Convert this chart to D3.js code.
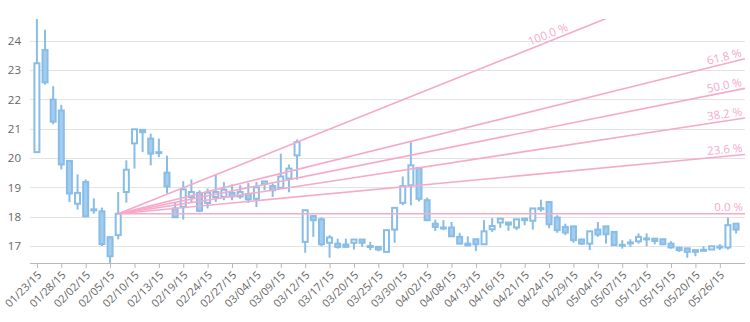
<!DOCTYPE html>
<html>
<head>
<meta charset="utf-8">
<script src="https://cdn.jsdelivr.net/npm/d3@7"></script>
<style>
  html, body { margin: 0; padding: 0; background: #fff; }
  svg { display: block; font-family: "Open Sans", "Noto Sans", sans-serif; }
</style>
</head>
<body>
<svg id="chart" width="750" height="322"></svg>
<script>
// Trading days (category axis)
const dates = [
  "01/23/15","01/26/15","01/27/15","01/28/15","01/29/15","01/30/15",
  "02/02/15","02/03/15","02/04/15","02/05/15","02/06/15","02/09/15","02/10/15","02/11/15","02/12/15","02/13/15",
  "02/17/15","02/18/15","02/19/15","02/20/15","02/23/15","02/24/15","02/25/15","02/26/15","02/27/15",
  "03/02/15","03/03/15","03/04/15","03/05/15","03/06/15","03/09/15","03/10/15","03/11/15","03/12/15","03/13/15",
  "03/16/15","03/17/15","03/18/15","03/19/15","03/20/15","03/23/15","03/24/15","03/25/15","03/26/15","03/27/15",
  "03/30/15","03/31/15","04/01/15","04/02/15","04/06/15","04/07/15","04/08/15","04/09/15","04/10/15",
  "04/13/15","04/14/15","04/15/15","04/16/15","04/17/15","04/20/15","04/21/15","04/22/15","04/23/15","04/24/15",
  "04/27/15","04/28/15","04/29/15","04/30/15","05/01/15","05/04/15","05/05/15","05/06/15","05/07/15","05/08/15",
  "05/11/15","05/12/15","05/13/15","05/14/15","05/15/15","05/18/15","05/19/15","05/20/15","05/21/15","05/22/15",
  "05/26/15","05/27/15","05/28/15"
];

const open = [
  20.20,23.68,21.99,21.62,19.90,18.44,19.18,18.25,18.18,17.30,17.37,18.84,20.50,20.96,20.66,20.20,
  19.50,18.28,18.33,18.67,18.81,18.47,18.67,18.67,18.81,18.69,18.77,18.61,19.12,19.04,18.98,19.30,
  20.09,17.14,18.02,17.91,17.11,17.08,17.05,17.11,17.22,17.00,16.97,16.80,17.56,18.47,19.07,19.66,
  18.56,17.76,17.63,17.63,17.31,17.08,17.23,17.06,17.57,17.80,17.80,17.63,17.93,17.86,18.29,18.50,
  17.97,17.65,17.67,17.22,17.08,17.56,17.67,17.48,17.04,17.10,17.16,17.26,17.25,17.23,17.08,16.94,
  16.92,16.86,16.85,16.88,16.96,16.95,17.76
];
const high = [
  24.74,24.37,22.45,21.81,19.93,19.44,19.27,18.62,18.31,17.32,18.84,19.92,20.98,20.97,20.83,20.66,
  20.08,18.47,19.21,19.27,18.90,18.96,19.44,19.18,19.10,19.07,19.15,19.18,19.22,19.12,20.15,19.78,
  20.63,18.22,18.03,17.97,17.37,17.25,17.25,17.22,17.22,17.14,17.00,17.54,18.30,19.37,20.54,19.66,
  18.65,17.90,17.88,17.82,17.45,17.33,17.23,17.88,17.95,17.94,17.80,17.93,17.94,18.28,18.58,18.50,
  18.05,17.76,17.67,17.25,17.50,17.82,17.67,17.49,17.20,17.23,17.43,17.43,17.25,17.23,17.16,16.97,
  16.92,16.86,16.99,16.99,17.06,17.97,17.76
];
const low = [
  20.18,22.50,21.15,19.61,18.50,18.24,18.00,18.10,17.00,16.42,17.23,18.48,19.64,20.20,19.75,20.03,
  18.79,17.97,17.90,18.50,18.15,18.28,18.50,18.56,18.56,18.61,18.47,18.33,18.90,18.67,18.96,18.83,
  19.26,16.77,17.31,16.99,16.60,16.91,16.95,16.88,16.97,16.86,16.82,16.80,17.11,18.39,18.39,18.52,
  17.86,17.51,17.54,17.32,17.07,17.02,16.83,17.06,17.48,17.62,17.52,17.54,17.71,17.56,18.17,17.60,
  17.45,17.37,17.11,17.03,16.86,17.31,17.08,17.03,16.91,16.97,17.08,16.99,17.06,17.03,16.91,16.80,
  16.60,16.65,16.83,16.88,16.86,16.88,17.43
];
const close = [
  23.23,22.58,21.24,19.78,18.79,18.81,18.01,18.22,17.07,16.65,18.10,19.60,20.98,20.88,20.15,20.17,
  19.03,17.98,18.93,18.84,18.20,18.82,18.84,18.92,18.69,18.84,18.59,19.00,19.20,18.90,19.37,19.64,
  20.54,18.22,17.88,17.06,17.29,16.97,16.97,17.22,17.11,16.98,16.88,17.54,18.30,19.04,19.75,18.61,
  17.88,17.65,17.61,17.33,17.08,17.02,17.06,17.50,17.68,17.93,17.73,17.91,17.88,18.28,18.27,17.74,
  17.54,17.46,17.20,17.08,17.50,17.39,17.40,17.03,17.02,17.12,17.31,17.24,17.17,17.06,16.95,16.86,
  16.80,16.80,16.87,16.99,16.98,17.71,17.56
];

// Fibonacci fan anchors (closing prices) and levels
const fanStartDate = "02/06/15";
const fanEndDate = "03/11/15";
const fanLevels = [0, 23.6, 38.2, 50.0, 61.8, 100.0];

// Axis settings
const yTicks = [17, 18, 19, 20, 21, 22, 23, 24];
const labelStep = 3;

const W = 750, H = 322;
const plot = { left: 30, right: 745, top: 19, bottom: 263 };
const seriesColor = "#88bde6";
const fanColor = "#f6aac9";

const svg = d3.select("#chart");
const n = dates.length;
const idx = d3.range(n);

const x = d3.scaleLinear().domain([-0.85, n + 0.1]).range([plot.left, plot.right]);
const y = d3.scaleLinear()
  .domain([d3.min(low), d3.max(high)])
  .range([plot.bottom, plot.top]);

// Horizontal gridlines
svg.append("g")
  .selectAll("line")
  .data(yTicks)
  .join("line")
  .attr("x1", plot.left).attr("x2", plot.right)
  .attr("y1", d => Math.round(y(d)) + 0.5).attr("y2", d => Math.round(y(d)) + 0.5)
  .attr("stroke", "#e3e3e3").attr("stroke-width", 1);

// Y axis labels
const yAxis = svg.append("g")
  .attr("transform", `translate(${plot.left},0)`)
  .call(d3.axisLeft(y).tickValues(yTicks).tickSize(0).tickPadding(9).tickFormat(d3.format("d")));
yAxis.select(".domain").remove();
yAxis.selectAll("text").attr("fill", "#666").attr("font-size", "11.5px")
  .attr("font-family", "'Open Sans', 'Noto Sans', sans-serif");

// X axis
const xAxis = svg.append("g")
  .attr("transform", `translate(0,${plot.bottom})`)
  .call(d3.axisBottom(x)
    .tickValues(idx.filter(i => i % labelStep === 0))
    .tickFormat(i => dates[i])
    .tickSize(5));
xAxis.select(".domain")
  .attr("d", `M${plot.left},0.5H${plot.right}`)
  .attr("stroke", "#b8b8b8");
xAxis.selectAll(".tick line").attr("stroke", "#b8b8b8");
xAxis.selectAll("text")
  .attr("fill", "#666")
  .attr("font-size", "11px")
  .attr("font-family", "'Open Sans', 'Noto Sans', sans-serif")
  .attr("text-anchor", "end")
  .attr("x", 0).attr("y", 0).attr("dy", "0.35em")
  .attr("transform", "translate(2,10) rotate(-45)");

// Clip region for plot contents
svg.append("defs").append("clipPath").attr("id", "plotClip")
  .append("rect")
  .attr("x", plot.left).attr("y", plot.top)
  .attr("width", plot.right - plot.left).attr("height", plot.bottom - plot.top);

// Candlesticks
const bodyW = 5;
const candles = svg.append("g").selectAll("g").data(idx).join("g");
candles.append("line")
  .attr("x1", i => x(i)).attr("x2", i => x(i))
  .attr("y1", i => y(high[i])).attr("y2", i => y(low[i]))
  .attr("stroke", seriesColor).attr("stroke-width", 2);
candles.append("rect")
  .attr("x", i => x(i) - bodyW / 2)
  .attr("y", i => y(Math.max(open[i], close[i])))
  .attr("width", bodyW)
  .attr("height", i => Math.max(1, Math.abs(y(open[i]) - y(close[i]))))
  .attr("fill", i => close[i] >= open[i] ? "#ffffff" : "#a3cdee")
  .attr("stroke", seriesColor).attr("stroke-width", 2);

// Fibonacci fans
const i0 = dates.indexOf(fanStartDate), i1 = dates.indexOf(fanEndDate);
const v0 = close[i0], v1 = close[i1];
const fanG = svg.append("g");
const lineG = fanG.append("g").attr("clip-path", "url(#plotClip)");
const xEnd = n + 0.1;
fanLevels.forEach(lvl => {
  const slope = (lvl / 100) * (v1 - v0) / (i1 - i0);
  const valAt = i => v0 + slope * (i - i0);
  lineG.append("line")
    .attr("x1", x(i0)).attr("y1", y(v0))
    .attr("x2", x(xEnd)).attr("y2", y(valAt(xEnd)))
    .attr("stroke", fanColor).attr("stroke-width", 1.6);

  // label at the end of the visible part of the line
  const px0 = x(i0), py0 = y(v0), px1 = x(xEnd), py1 = y(valAt(xEnd));
  const pslope = (py1 - py0) / (px1 - px0);
  let lx = plot.right - 2;
  if (py0 + pslope * (lx - px0) < plot.top + 14) {
    lx = px0 + (plot.top + 14 - py0) / pslope;
  }
  const ly = py0 + pslope * (lx - px0);
  const ang = Math.atan(pslope) * 180 / Math.PI;
  fanG.append("text")
    .attr("transform", `translate(${lx},${ly}) rotate(${ang})`)
    .attr("dy", -3)
    .attr("text-anchor", "end")
    .attr("fill", fanColor)
    .attr("font-size", "11.5px")
    .text(d3.format(".1f")(lvl) + " %");
});
</script>
</body>
</html>
